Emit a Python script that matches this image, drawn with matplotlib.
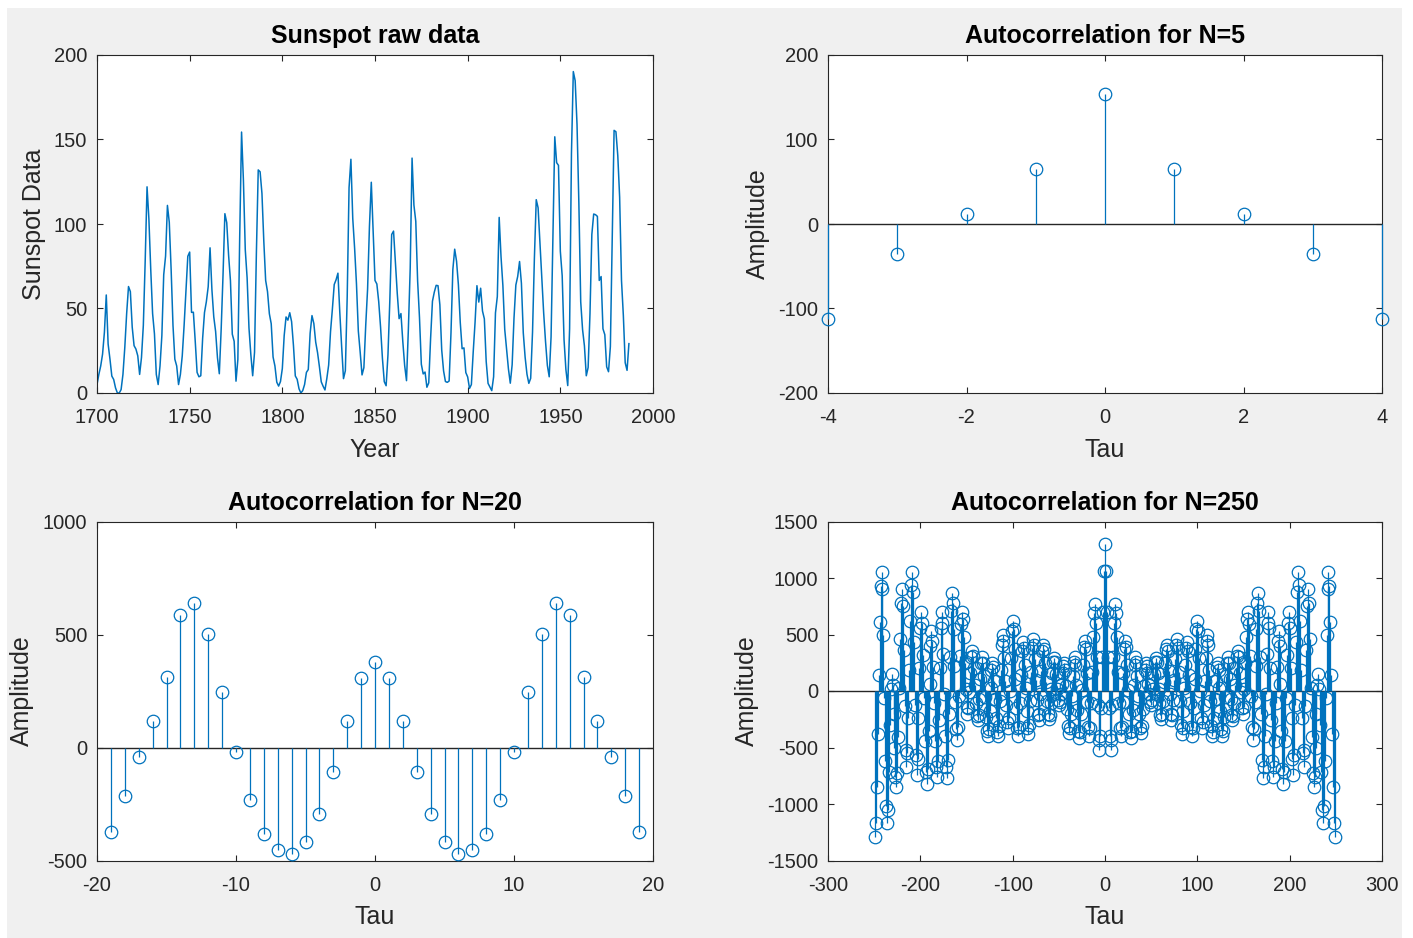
import numpy as np
import matplotlib
matplotlib.use("Agg")
import matplotlib.pyplot as plt
from matplotlib.patches import Rectangle

plt.rcParams['font.family'] = ['Liberation Sans', 'DejaVu Sans']
plt.rcParams['axes.unicode_minus'] = False

BLUE = '#0072BD'
DARK = '#262626'

# Yearly sunspot numbers, 1700-1987
years = np.arange(1700, 1988)
sunspots = [
    5, 11, 16, 23, 36, 58, 29, 20, 10, 8,
    3, 0, 0, 2, 11, 27, 47, 63, 60, 39,
    28, 26, 22, 11, 21, 40, 78, 122, 103, 73,
    47, 35, 11, 5, 16, 34, 70, 81, 111, 101,
    73, 40, 20, 16, 5, 11, 22, 40, 60, 80.9,
    83.4, 47.7, 47.8, 30.7, 12.2, 9.6, 10.2, 32.4, 47.6, 54.0,
    62.9, 85.9, 61.2, 45.1, 36.4, 20.9, 11.4, 37.8, 69.8, 106.1,
    100.8, 81.6, 66.5, 34.8, 30.6, 7.0, 19.8, 92.5, 154.4, 125.9,
    84.8, 68.1, 38.5, 22.8, 10.2, 24.1, 82.9, 132.0, 130.9, 118.1,
    89.9, 66.6, 60.0, 46.9, 41.0, 21.3, 16.0, 6.4, 4.1, 6.8,
    14.5, 34.0, 45.0, 43.1, 47.5, 42.2, 28.1, 10.1, 8.1, 2.5,
    0.0, 1.4, 5.0, 12.2, 13.9, 35.4, 45.8, 41.1, 30.1, 23.9,
    15.6, 6.6, 4.0, 1.8, 8.5, 16.6, 36.3, 49.6, 64.2, 67.0,
    70.9, 47.8, 27.5, 8.5, 13.2, 56.9, 121.5, 138.3, 103.2, 85.7,
    64.6, 36.7, 24.2, 10.7, 15.0, 40.1, 61.5, 98.5, 124.7, 96.3,
    66.6, 64.5, 54.1, 39.0, 20.6, 6.7, 4.3, 22.7, 54.8, 93.8,
    95.8, 77.2, 59.1, 44.0, 47.0, 30.5, 16.3, 7.3, 37.6, 74.0,
    139.0, 111.2, 101.6, 66.2, 44.7, 17.0, 11.3, 12.4, 3.4, 6.0,
    32.3, 54.3, 59.7, 63.7, 63.5, 52.2, 25.4, 13.1, 6.8, 6.3,
    7.1, 35.6, 73.0, 85.1, 78.0, 64.0, 41.8, 26.2, 26.7, 12.1,
    9.5, 2.7, 5.0, 24.4, 42.0, 63.5, 53.8, 62.0, 48.5, 43.9,
    18.6, 5.7, 3.6, 1.4, 9.6, 47.4, 57.1, 103.9, 80.6, 63.6,
    37.6, 26.1, 14.2, 5.8, 16.7, 44.3, 63.9, 69.0, 77.8, 64.9,
    35.7, 21.2, 11.1, 5.7, 8.7, 36.1, 79.7, 114.4, 109.6, 88.8,
    67.8, 47.5, 30.6, 16.3, 9.6, 33.2, 92.6, 151.6, 136.3, 134.7,
    83.9, 69.4, 31.5, 13.9, 4.4, 38.0, 141.7, 190.2, 184.8, 159.0,
    112.3, 53.9, 37.5, 27.9, 10.2, 15.1, 47.0, 93.8, 105.9, 105.5,
    104.5, 66.6, 68.9, 38.0, 34.5, 15.5, 12.6, 27.5, 92.5, 155.4,
    154.6, 140.4, 115.9, 66.6, 45.9, 17.9, 13.4, 29.2,
]

# Autocorrelation, N = 5
tau5 = np.arange(-4, 5)
acf5 = [-113, -36, 12, 65, 154, 65, 12, -36, -113]

# Autocorrelation, N = 20
tau20 = np.arange(-19, 20)
acf20 = [-372, -213, -42, 119, 312, 586, 638, 504, 246, -21,
         -234, -383, -455, -471, -420, -293, -108, 119, 306,
         378,
         306, 119, -108, -293, -420, -471, -455, -383, -234,
         -21, 246, 504, 638, 586, 312, 119, -42, -213, -372]

# Autocorrelation, N = 250 (lags 0..249; the function is even)
acf250_pos = [
    1300, 1060, 700, 300, -150, -400, -520, -430, -120, 300, 600, 770,
    690, 480, 170, -110, -330, -400, -320, -100, 160, 370, 444,
    390, 230, 10, -200, -360, -420, -350, -170, 50, 230, 300,
    255, 130, -40, -200, -325, -370, -310, -160, 40, 190, 250,
    225, 160, 65, -30, -95, -120, -80, 20, 150, 260, 295,
    260, 160, 20, -110, -210, -250, -200, -90, 80, 250, 370, 410,
    350, 180, -30, -200, -260, -210, -80, 100, 280, 410, 460,
    380, 170, -90, -300, -380, -330, -180, 30, 230, 380, 430,
    350, 140, -110, -320, -400, -330, -150, 110, 370, 550, 620,
    530, 290, 0, -240, -330, -270, -120, 90, 290, 440, 500,
    410, 190, -90, -310, -400, -360, -240, -70, 90, 210, 250,
    190, 30, -180, -340, -400, -350, -230, -50, 130, 250, 300,
    250, 110, -70, -210, -260, -220, -110, 50, 200, 310, 350,
    300, 160, -10, -150, -200, -140, 20, 250, 480, 640, 700,
    590, 310, -40, -320, -430, -340, -100, 220, 550, 780, 870,
    710, 300, -200, -610, -770, -670, -400, -30, 330, 600, 700,
    560, 200, -260, -620, -760, -670, -440, -110, 210, 440, 530,
    400, 60, -350, -690, -820, -720, -440, -60, 320, 600, 700,
    560, 200, -240, -600, -740, -570, -120, 430, 880, 1050,
    940, 620, 190, -240, -550, -670, -520, -130, 360, 750, 900,
    780, 460, 30, -410, -730, -850, -760, -500, -200, 50, 150,
    20, -300, -720, -1050, -1170, -1020, -620, -60, 500, 900, 1050,
    930, 610, 140, -380, -850, -1170, -1290,
]
tau250 = np.arange(-249, 250)
acf250 = acf250_pos[:0:-1] + acf250_pos

W, H = 1413, 938
fig = plt.figure(figsize=(W / 100, H / 100), dpi=100, facecolor='white')
fig.patches.append(Rectangle((7 / W, 0), (1402 - 7) / W, (H - 8) / H,
                             transform=fig.transFigure, facecolor='#f0f0f0',
                             edgecolor='none', zorder=-10))


def box(x0, x1, y0, y1):
    return [x0 / W, (H - y1) / H, (x1 - x0) / W, (y1 - y0) / H]


ax1 = fig.add_axes(box(97, 653, 55, 393))
ax2 = fig.add_axes(box(828, 1382, 55, 393))
ax3 = fig.add_axes(box(97, 653, 521.5, 860.5))
ax4 = fig.add_axes(box(828, 1382, 521.5, 860.5))


def style(ax, title, xlabel, ylabel):
    ax.set_facecolor('white')
    for s in ax.spines.values():
        s.set_color(DARK)
        s.set_linewidth(0.8)
    ax.tick_params(direction='in', top=True, right=True, length=4.5,
                   width=0.8, colors=DARK, labelsize=14.5)
    ax.tick_params(axis='y', pad=7)
    ax.tick_params(axis='x', pad=11)
    ax.set_title(title, fontsize=18, fontweight='bold', pad=8.5, color='black')
    ax.set_xlabel(xlabel, fontsize=18, color=DARK, labelpad=7.5)
    ax.set_ylabel(ylabel, fontsize=18, color=DARK, labelpad=6)


def stem(ax, x, y):
    markerline, stemlines, baseline = ax.stem(x, y, basefmt=' ')
    stemlines.set_color(BLUE)
    stemlines.set_linewidth(0.9)
    stemlines.set_zorder(3)
    stemlines.set_clip_on(False)
    markerline.set_marker('o')
    markerline.set_markerfacecolor('none')
    markerline.set_markeredgecolor(BLUE)
    markerline.set_markersize(9)
    markerline.set_markeredgewidth(0.9)
    markerline.set_linestyle('none')
    markerline.set_zorder(3)
    markerline.set_clip_on(False)
    ax.axhline(0, color=DARK, lw=1.0, zorder=2.8)


# Raw data
ax1.plot(years, sunspots, color=BLUE, lw=1.1)
ax1.set_xlim(1700, 2000)
ax1.set_ylim(0, 200)
ax1.set_xticks(np.arange(1700, 2001, 50))
ax1.set_yticks(np.arange(0, 201, 50))
style(ax1, 'Sunspot raw data', 'Year', 'Sunspot Data')

stem(ax2, tau5, acf5)
ax2.set_xlim(-4, 4)
ax2.set_ylim(-200, 200)
ax2.set_xticks(np.arange(-4, 5, 2))
ax2.set_yticks(np.arange(-200, 201, 100))
style(ax2, 'Autocorrelation for N=5', 'Tau', 'Amplitude')

stem(ax3, tau20, acf20)
ax3.set_xlim(-20, 20)
ax3.set_ylim(-500, 1000)
ax3.set_xticks(np.arange(-20, 21, 10))
ax3.set_yticks(np.arange(-500, 1001, 500))
style(ax3, 'Autocorrelation for N=20', 'Tau', 'Amplitude')

stem(ax4, tau250, acf250)
ax4.set_xlim(-300, 300)
ax4.set_ylim(-1500, 1500)
ax4.set_xticks(np.arange(-300, 301, 100))
ax4.set_yticks(np.arange(-1500, 1501, 500))
style(ax4, 'Autocorrelation for N=250', 'Tau', 'Amplitude')

fig.savefig('out.png', dpi=100, facecolor=fig.get_facecolor())
